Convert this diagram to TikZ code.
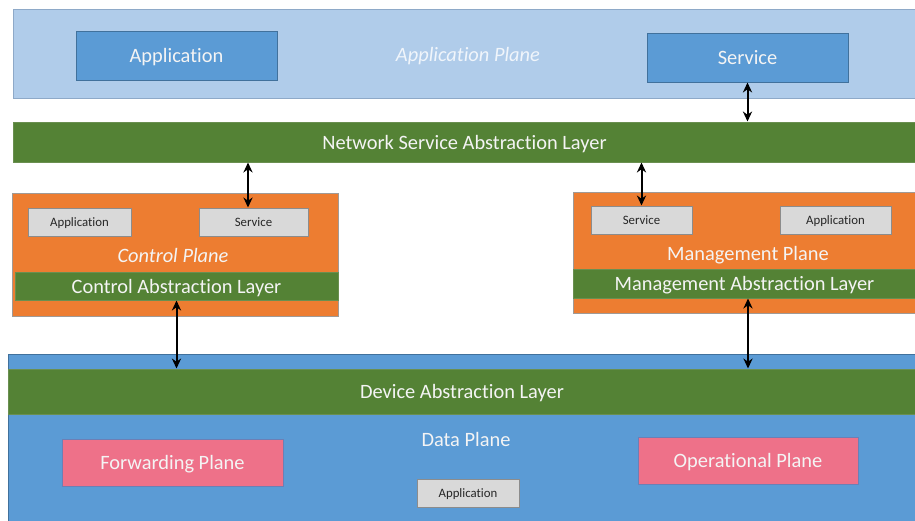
\documentclass[tikz,border=0pt]{standalone}
\usepackage{fontspec}
\setmainfont{Carlito}[Ligatures=NoCommon]
\usetikzlibrary{arrows.meta}
\definecolor{apl}{HTML}{B0CCEA}
\definecolor{aplb}{HTML}{8EA9C8}
\definecolor{blu}{HTML}{5B9BD5}
\definecolor{blub}{HTML}{41719C}
\definecolor{grn}{HTML}{548235}
\definecolor{grnb}{HTML}{6A8F50}
\definecolor{org}{HTML}{ED7D31}
\definecolor{orgb}{HTML}{A09A96}
\definecolor{gry}{HTML}{D9D9D9}
\definecolor{gryb}{HTML}{8C8C8C}
\definecolor{pnk}{HTML}{EE7189}
\definecolor{pnkb}{HTML}{6C7FB5}
\definecolor{wtxt}{HTML}{F4F4F4}
\definecolor{itxt}{HTML}{F0F5FB}
\tikzset{
  base/.style={rectangle, inner sep=0pt, line width=0.5pt, text depth=0pt},
  planebg/.style={base, fill=apl, draw=aplb},
  bluebox/.style={base, fill=blu, draw=blub, text=wtxt, font=\fontsize{10.2}{12}\selectfont},
  greenbar/.style={base, fill=grn, draw=grnb, text=wtxt, font=\fontsize{10.2}{12}\selectfont},
  orangebox/.style={base, fill=org, draw=orgb},
  graybox/.style={base, fill=gry, draw=gryb, text=black!85, font=\fontsize{6.4}{8}\selectfont},
  pinkbox/.style={base, fill=pnk, draw=pnkb, text=wtxt, font=\fontsize{10.2}{12}\selectfont},
  databg/.style={base, fill=blu, draw=blub},
  label/.style={inner sep=0pt, text depth=0pt, text=wtxt, font=\fontsize{10.2}{12}\selectfont},
  ilabel/.style={label, font=\fontsize{10.2}{12}\selectfont\itshape},
  arr/.style={line width=1pt, black, {Stealth[length=5pt,width=4.6pt]}-{Stealth[length=5pt,width=4.6pt]}}
}
\begin{document}
\begin{tikzpicture}[x=0.5pt,y=-0.5pt]
\useasboundingbox[fill=white] (0,0) rectangle (915,520);
% Application plane
\node[planebg, minimum width=451.5pt, minimum height=44.5pt] (apl) at (464.5,53.5) {};
\node[bluebox, minimum width=100.5pt, minimum height=24.5pt] (app) at (176.5,55.5) {Application};
\node[bluebox, minimum width=100.5pt, minimum height=24.5pt] (svc) at (747.5,57.5) {Service};
\node[ilabel, text=itxt] (aplt) at (468,54) {Application Plane};
% Network service abstraction layer
\node[greenbar, minimum width=451.5pt, minimum height=20pt] (nsal) at (464.5,142) {Network Service Abstraction Layer};
% Control plane
\node[orangebox, minimum width=163pt, minimum height=61.5pt] (cp) at (175,254.5) {};
\node[graybox, minimum width=51.5pt, minimum height=14pt] (capp) at (79.5,222) {Application};
\node[graybox, minimum width=54.5pt, minimum height=14pt] (csvc) at (253.5,222) {Service};
\node[ilabel] (cpt) at (173,255) {Control Plane};
\node[greenbar, minimum width=161.5pt, minimum height=14pt] (cal) at (176.5,286) {Control Abstraction Layer};
% Management plane
\node[orangebox, minimum width=171.5pt, minimum height=60.5pt] (mp) at (744.5,252.5) {};
\node[graybox, minimum width=50.5pt, minimum height=14pt] (msvc) at (641.5,220) {Service};
\node[graybox, minimum width=55.5pt, minimum height=14pt] (mapp) at (835.5,220) {Application};
\node[label] (mpt) at (748,253) {Management Plane};
\node[greenbar, minimum width=171.5pt, minimum height=14.5pt] (mal) at (744.5,283.5) {Management Abstraction Layer};
% Data plane
\node[databg, minimum width=454pt, minimum height=83.5pt] (dp) at (462,437.5) {};
\node[greenbar, minimum width=454pt, minimum height=22.5pt] (dal) at (462,391.5) {Device Abstraction Layer};
\node[label] (dpt) at (466,439) {Data Plane};
\node[pinkbox, minimum width=110.5pt, minimum height=23.5pt] (fwd) at (172.5,462.5) {Forwarding Plane};
\node[pinkbox, minimum width=110pt, minimum height=23.5pt] (op) at (748,460.5) {Operational Plane};
\node[graybox, minimum width=51pt, minimum height=14pt] (dapp) at (468,493) {Application};
% Connectors
\draw[arr] (svc.south) -- (nsal.north -| svc.south);
\draw[arr] (nsal.south -| 248,0) -- (csvc.north -| 248,0);
\draw[arr] (nsal.south -| msvc.north) -- (msvc.north);
\draw[arr] (cal.south) -- (dal.north -| cal.south);
\draw[arr] (mal.south -| 748,0) -- (dal.north -| 748,0);
\end{tikzpicture}
\end{document}
